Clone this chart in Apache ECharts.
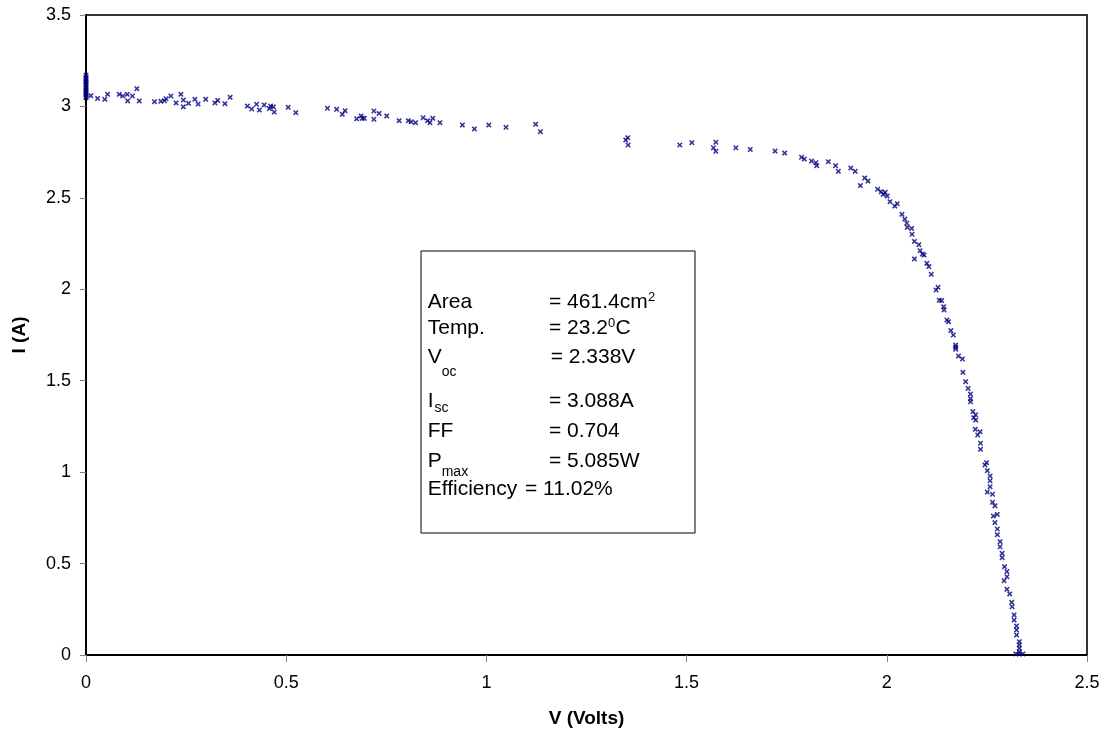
<!DOCTYPE html>
<html>
<head>
<meta charset="utf-8">
<title>I-V curve</title>
<script src="https://cdn.jsdelivr.net/npm/echarts@6/dist/echarts.min.js"></script>
<style>
  html, body { margin: 0; padding: 0; background: #fff; }
  #chart { width: 1109px; height: 736px; }
</style>
</head>
<body>
<div id="chart"></div>
<script>
// Measured module I-V points: voltage (V) and current (A), pairwise
const voltage = [
  0, 0, 0, 0, 0, 0, 0, 0, 0, 0, 0, 0, 0, 0, 0,
  0.012, 0.029, 0.047, 0.054, 0.083, 0.092, 0.103, 0.104, 0.116, 0.127, 0.133,
  0.171, 0.187, 0.196, 0.200, 0.212, 0.225, 0.237, 0.243, 0.243, 0.256, 0.272,
  0.280, 0.299, 0.322, 0.329, 0.347, 0.360, 0.403, 0.414, 0.426, 0.433, 0.445,
  0.458, 0.461, 0.468, 0.470, 0.505, 0.524, 0.603, 0.626, 0.640, 0.647, 0.676,
  0.687, 0.690, 0.695, 0.719, 0.719, 0.732, 0.751, 0.782, 0.805, 0.812, 0.823,
  0.842, 0.853, 0.859, 0.866, 0.884, 0.940, 0.970, 1.006, 1.049, 1.123, 1.135,
  1.348, 1.353, 1.354, 1.483, 1.513, 1.567, 1.573, 1.573,
  1.623, 1.659, 1.721, 1.745, 1.787, 1.794, 1.812, 1.823, 1.825, 1.854, 1.872,
  1.879, 1.910, 1.921, 1.934, 1.945, 1.953, 1.977, 1.986, 1.991, 1.996, 2.001,
  2.008, 2.020, 2.026, 2.038, 2.045, 2.050, 2.051, 2.062, 2.063, 2.069, 2.069,
  2.080, 2.083, 2.089, 2.093, 2.100, 2.105, 2.111, 2.123, 2.128, 2.131, 2.137,
  2.142, 2.143, 2.150, 2.154, 2.160, 2.166, 2.172, 2.172, 2.172, 2.179, 2.189,
  2.190, 2.197, 2.203, 2.209, 2.209, 2.209, 2.215, 2.222, 2.217, 2.222, 2.221,
  2.233, 2.227, 2.234, 2.234, 2.249, 2.245, 2.251, 2.258, 2.258, 2.258, 2.251,
  2.264, 2.264, 2.270, 2.266, 2.276, 2.270, 2.276, 2.276, 2.283, 2.283, 2.288,
  2.288, 2.294, 2.300, 2.300, 2.293, 2.300, 2.307, 2.312, 2.313, 2.318, 2.318,
  2.324, 2.324, 2.324, 2.331, 2.331, 2.331, 2.331, 2.322, 2.331, 2.340
];
const current = [
  3.171, 3.160, 3.152, 3.141, 3.133, 3.126, 3.115, 3.104, 3.097, 3.088, 3.079, 3.070, 3.062, 3.053, 3.047,
  3.059, 3.044, 3.039, 3.066, 3.066, 3.057, 3.066, 3.030, 3.057, 3.097, 3.030,
  3.026, 3.028, 3.031, 3.042, 3.057, 3.019, 3.066, 3.035, 2.998, 3.017, 3.039,
  3.013, 3.039, 3.019, 3.033, 3.015, 3.050, 3.002, 2.986, 3.012, 2.980, 3.008,
  2.988, 3.002, 2.998, 2.969, 2.995, 2.966, 2.990, 2.984, 2.957, 2.977, 2.932,
  2.948, 2.935, 2.935, 2.975, 2.930, 2.962, 2.948, 2.922, 2.922, 2.916, 2.911,
  2.938, 2.922, 2.911, 2.935, 2.911, 2.898, 2.877, 2.898, 2.886, 2.902, 2.862,
  2.816, 2.829, 2.789, 2.789, 2.802, 2.774, 2.804, 2.755,
  2.774, 2.765, 2.756, 2.745, 2.722, 2.712, 2.701, 2.692, 2.676, 2.698, 2.676,
  2.645, 2.663, 2.645, 2.567, 2.609, 2.592, 2.547, 2.534, 2.519, 2.530, 2.510,
  2.479, 2.455, 2.468, 2.410, 2.384, 2.361, 2.339, 2.333, 2.301, 2.262, 2.166,
  2.244, 2.211, 2.193, 2.187, 2.142, 2.124, 2.082, 1.996, 2.011, 1.940, 1.938,
  1.905, 1.887, 1.832, 1.823, 1.774, 1.750, 1.695, 1.683, 1.672, 1.635, 1.619,
  1.546, 1.495, 1.458, 1.427, 1.402, 1.385, 1.331, 1.314, 1.298, 1.285, 1.234,
  1.221, 1.203, 1.158, 1.125, 1.052, 1.039, 1.008, 0.979, 0.953, 0.920, 0.891,
  0.879, 0.835, 0.816, 0.760, 0.769, 0.724, 0.689, 0.658, 0.620, 0.592, 0.556,
  0.532, 0.483, 0.456, 0.428, 0.406, 0.359, 0.334, 0.288, 0.264, 0.219, 0.191,
  0.159, 0.137, 0.109, 0.073, 0.055, 0.037, 0.018, 0.006, 0.006, 0.006
];

// Axis ranges and tick step
const xRange = [0, 2.5];
const yRange = [0, 3.5];
const tickStep = 0.5;

// Axis titles
const xTitle = 'V (Volts)';
const yTitle = 'I (A)';

// Cell summary shown in the boxed note
const summaryLabels = ['Area', 'Temp.', 'V', 'I', 'FF', 'P', 'Efficiency'];
const summarySubs = ['', '', 'oc', 'sc', '', 'max', ''];
const summaryValues = ['= 461.4cm', '= 23.2', '= 2.338V', '= 3.088A', '= 0.704', '= 5.085W', '= 11.02%'];

const FONT = '"Liberation Sans", Arial, Helvetica, sans-serif';

const points = voltage.map((v, i) => [v, current[i]]);

// layout of the note box and its rows
const box = { x: 421, y: 251, w: 274, h: 282 };
const rowY = [302, 328, 357, 401, 431, 461, 489];
const subDy = [0, 0, 15, 7, 0, 11, 0];
const subX = [0, 0, 441.7, 434.5, 0, 441.7, 0];
const valueX = [549, 549, 550.7, 549, 549, 549, 525];
const labelX = 427.7;

function txt(x, y, text, size) {
  return {
    type: 'text', x: x, y: y, z: 101,
    style: {
      text: text, fontSize: size, fontFamily: FONT, fill: '#000',
      align: 'left', verticalAlign: 'middle',
      textAlign: 'left', textVerticalAlign: 'middle'
    }
  };
}

const noteItems = [{
  type: 'rect', z: 100,
  shape: { x: box.x, y: box.y, width: box.w, height: box.h },
  style: { fill: '#fff', stroke: '#000', lineWidth: 1 }
}];
summaryLabels.forEach((lab, i) => {
  noteItems.push(txt(labelX, rowY[i], lab, 21));
  if (summarySubs[i]) noteItems.push(txt(subX[i], rowY[i] + subDy[i], summarySubs[i], 14));
  noteItems.push(txt(valueX[i], rowY[i], summaryValues[i], 21));
});
// superscripts: cm² and ⁰C
noteItems.push(txt(648, rowY[0] - 5, '2', 13));
noteItems.push(txt(608, rowY[1] - 5, '0', 13));
noteItems.push(txt(615.5, rowY[1], 'C', 21));

const chart = echarts.init(document.getElementById('chart'), null, { renderer: 'canvas' });

const xMarker = 'path://M0,2 L2,0 L5,3 L8,0 L10,2 L7,5 L10,8 L8,10 L5,7 L2,10 L0,8 L3,5 Z';

chart.setOption({
  backgroundColor: '#fff',
  animation: false,
  textStyle: { fontFamily: FONT },
  grid: {
    left: 86, right: 22, top: 15, bottom: 81,
    containLabel: false,
    outerBoundsMode: 'none',
    show: true,
    borderColor: '#333',
    borderWidth: 2,
    backgroundColor: 'transparent'
  },
  xAxis: {
    type: 'value',
    min: xRange[0], max: xRange[1], interval: tickStep,
    name: xTitle,
    nameLocation: 'middle',
    nameGap: 54,
    nameTextStyle: { fontSize: 19, fontWeight: 'bold', color: '#000', fontFamily: FONT },
    axisLine: { show: true, onZero: false, lineStyle: { color: '#000', width: 2 } },
    axisTick: { show: true, inside: false, length: 7, lineStyle: { color: '#808080', width: 1 } },
    axisLabel: { fontSize: 18, color: '#000', margin: 19, fontFamily: FONT },
    splitLine: { show: false }
  },
  yAxis: {
    type: 'value',
    min: yRange[0], max: yRange[1], interval: tickStep,
    name: yTitle,
    nameLocation: 'middle',
    nameGap: 57,
    nameRotate: 90,
    nameTextStyle: { fontSize: 19, fontWeight: 'bold', color: '#000', fontFamily: FONT },
    axisLine: { show: true, onZero: false, lineStyle: { color: '#000', width: 2 } },
    axisTick: { show: true, inside: false, length: 6, lineStyle: { color: '#808080', width: 1 } },
    axisLabel: { fontSize: 18, color: '#000', margin: 15, fontFamily: FONT },
    splitLine: { show: false }
  },
  series: [{
    type: 'scatter',
    data: points,
    symbol: xMarker,
    symbolSize: 5.5,
    itemStyle: { color: '#000080' },
    clip: false
  }],
  graphic: noteItems
});
</script>
</body>
</html>
